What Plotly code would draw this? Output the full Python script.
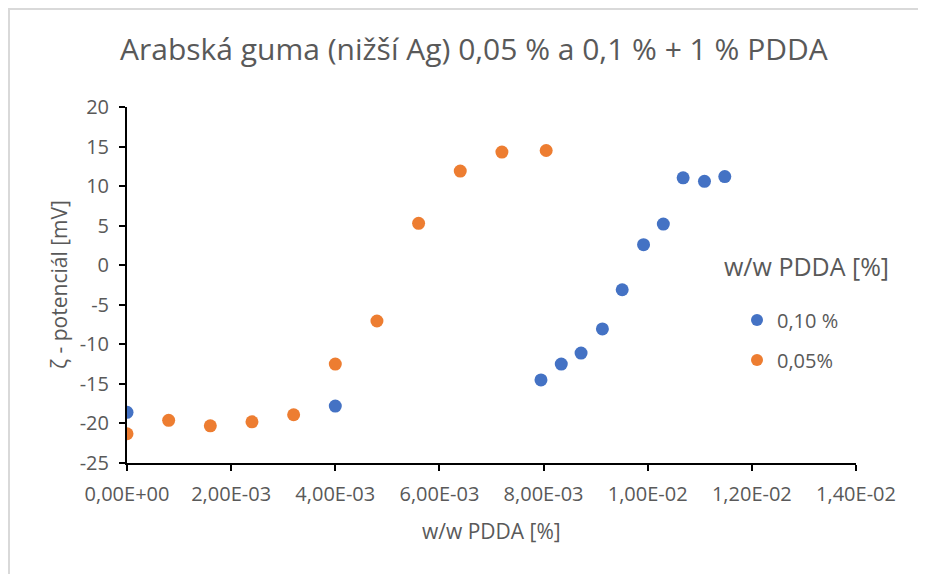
import plotly.graph_objects as go

# Data
blue_name = "0,10 %"
blue_x = [0.0, 0.0040, 0.00795, 0.00834, 0.00872, 0.00913, 0.00951, 0.00992, 0.01030, 0.01068, 0.01109, 0.01148]
blue_y = [-18.6, -17.8, -14.5, -12.5, -11.1, -8.05, -3.1, 2.6, 5.2, 11.05, 10.6, 11.2]

orange_name = "0,05%"
orange_x = [0.0, 0.0008, 0.0016, 0.0024, 0.0032, 0.0040, 0.0048, 0.0056, 0.0064, 0.0072, 0.00805]
orange_y = [-21.3, -19.6, -20.3, -19.8, -18.9, -12.5, -7.05, 5.3, 11.9, 14.3, 14.5]

x_tickvals = [0, 0.002, 0.004, 0.006, 0.008, 0.010, 0.012, 0.014]
x_ticktext = ["0,00E+00", "2,00E-03", "4,00E-03", "6,00E-03", "8,00E-03", "1,00E-02", "1,20E-02", "1,40E-02"]
y_tickvals = [20, 15, 10, 5, 0, -5, -10, -15, -20, -25]
y_ticktext = ["20", "15", "10", "5", "0", "-5", "-10", "-15", "-20", "-25"]

title_text = "Arabská guma (nižší Ag) 0,05 % a 0,1 % + 1 % PDDA"
x_title = "w/w PDDA [%]"
y_title = "ζ - potenciál [mV]"
legend_title = "w/w PDDA [%]"

BLUE = "#4472C4"
ORANGE = "#ED7D31"
TXT = "#595959"
FONT = "Open Sans"

# page has an 8px body margin; figure coords = reference coords - 8
W, H = 918, 566
L, R, T, B = 119, 70, 99, 111
pw, ph = W - L - R, H - T - B

def px_x(p):
    return (p - L) / pw

def px_y(p):
    return (H - B - p) / ph

fig = go.Figure()
fig.add_trace(go.Scatter(x=blue_x, y=blue_y, mode="markers", name=blue_name,
                         marker=dict(color=BLUE, size=13), legend="legend"))
fig.add_trace(go.Scatter(x=orange_x, y=orange_y, mode="markers", name=orange_name,
                         marker=dict(color=ORANGE, size=13), legend="legend2"))

axis_common = dict(showgrid=False, zeroline=False, showline=True, linecolor="black",
                   linewidth=2, ticks="outside", ticklen=6, tickwidth=2, tickcolor="black",
                   ticklabelstandoff=6,
                   tickfont=dict(family=FONT, size=20, color=TXT))

fig.update_xaxes(range=[0, 0.014], tickvals=x_tickvals, ticktext=x_ticktext, **axis_common)
fig.update_yaxes(range=[-25, 20], tickvals=y_tickvals, ticktext=y_ticktext, **axis_common)

leg_common = dict(font=dict(family=FONT, size=20, color=TXT), bgcolor="rgba(0,0,0,0)",
                  itemsizing="constant", xanchor="left", yanchor="middle")
fig.update_layout(
    width=W, height=H,
    margin=dict(l=L, r=R, t=T, b=B),
    paper_bgcolor="white", plot_bgcolor="white",
    showlegend=True,
    legend=dict(x=px_x(729), y=px_y(312), **leg_common),
    legend2=dict(x=px_x(729), y=px_y(352), **leg_common),
    annotations=[
        dict(text=title_text, xref="paper", yref="paper", x=px_x(466), y=px_y(41),
             xanchor="center", yanchor="middle", showarrow=False,
             font=dict(family=FONT, size=30, color=TXT)),
        dict(text=legend_title, xref="paper", yref="paper", x=px_x(714), y=px_y(258),
             xanchor="left", yanchor="middle", showarrow=False,
             font=dict(family=FONT, size=25, color=TXT)),
        dict(text=x_title, xref="paper", yref="paper", x=0.5, y=px_y(523),
             xanchor="center", yanchor="middle", showarrow=False,
             font=dict(family=FONT, size=21, color=TXT)),
        dict(text=y_title, xref="paper", yref="paper", x=px_x(51), y=px_y(277),
             xanchor="center", yanchor="middle", showarrow=False, textangle=-90,
             font=dict(family=FONT, size=21, color=TXT)),
    ],
    shapes=[
        dict(type="line", xref="paper", yref="paper", x0=px_x(0), x1=px_x(W),
             y0=px_y(1), y1=px_y(1), line=dict(color="#D9D9D9", width=2)),
        dict(type="line", xref="paper", yref="paper", x0=px_x(1), x1=px_x(1),
             y0=px_y(0), y1=px_y(H), line=dict(color="#D9D9D9", width=2)),
    ],
)

fig.write_html("out.html")
